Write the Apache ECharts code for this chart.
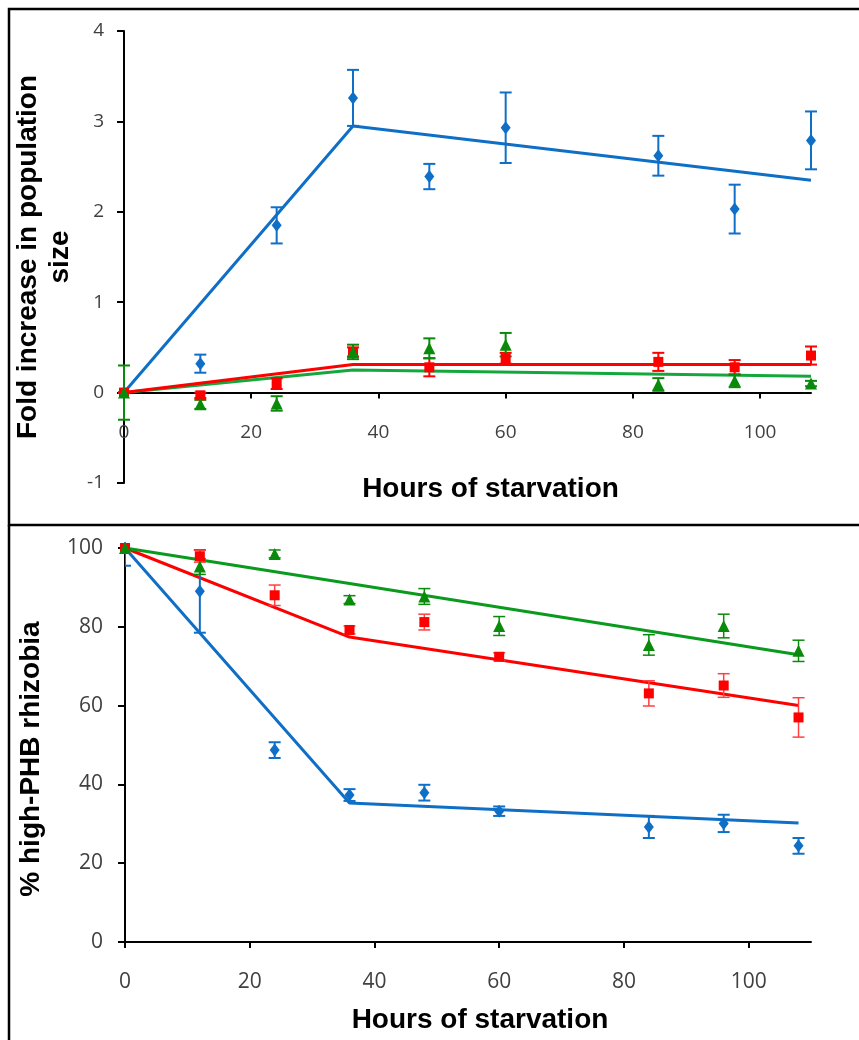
<!DOCTYPE html>
<html>
<head>
<meta charset="utf-8">
<script src="https://cdn.jsdelivr.net/npm/echarts@6/dist/echarts.min.js"></script>
<style>
    html, body { margin: 0; padding: 0; background: #fff; }
    #chart { width: 859px; height: 1040px; }
</style>
</head>
<body>
<div id="chart"></div>
<script>
// sampling times (hours of starvation)
var hours = [0, 12, 24, 36, 48, 60, 84, 96, 108];
var fitHours = [0, 36, 108];
var xTicks = [0, 20, 40, 60, 80, 100];

// top panel: fold increase in population size
var popBlue = [0, 0.32, 1.85, 3.26, 2.39, 2.93, 2.62, 2.03, 2.79];
var popBlueErr = [0, 0.1, 0.2, 0.31, 0.14, 0.39, 0.22, 0.27, 0.32];
var popRed = [0, -0.03, 0.1, 0.45, 0.28, 0.38, 0.34, 0.28, 0.41];
var popRedErr = [0, 0.03, 0.06, 0.05, 0.1, 0.06, 0.1, 0.08, 0.1];
var popGreen = [0, -0.13, -0.12, 0.45, 0.49, 0.53, 0.09, 0.13, 0.1];
var popGreenErr = [0.3, 0.05, 0.08, 0.08, 0.11, 0.13, 0.07, 0.07, 0.03];
var popFitBlue = [0, 2.95, 2.35];
var popFitRed = [0, 0.31, 0.31];
var popFitGreen = [0, 0.25, 0.18];

// bottom panel: % high-PHB rhizobia
var phbBlue = [100, 89, 48.7, 37.3, 37.9, 33.2, 29.2, 30.1, 24.4];
var phbBlueErr = [4.5, 10.5, 2, 1.5, 2, 1.2, 2.8, 2.2, 2];
var phbRed = [100, 97.9, 88, 79.2, 81.2, 72.4, 63.1, 65.1, 57];
var phbRedErr = [1, 1.5, 2.6, 1, 2, 1, 3.2, 3, 5];
var phbGreen = [100, 95.3, 98.5, 86.9, 87.7, 80.2, 75.4, 80.2, 73.9];
var phbGreenErr = [0.5, 2, 1, 1, 2, 2.4, 2.6, 3, 2.7];
var phbFitBlue = [100, 35.3, 30.2];
var phbFitRed = [100, 77.4, 60];
var phbFitGreen = [100, 91, 72.9];

var BLUE = "#0F6FC6";
var RED = "#FF0000";
var GREEN_MK = "#0A8A0A";
var GREEN_LN = "#14A83C";

function pts(xs, ys) {
    return xs.map(function(x, i) { return [x, ys[i]]; });
}
function errPts(ys, errs) {
    return hours.map(function(h, i) { return [h, ys[i] - errs[i], ys[i] + errs[i]]; });
}

function errorBars(color, width) {
    return function(params, api) {
        var x = api.value(0);
        var lo = api.coord([x, api.value(1)]);
        var hi = api.coord([x, api.value(2)]);
        var cap = 6;
        var style = { stroke: color, lineWidth: width };
        return {
            type: "group",
            children: [
                { type: "line", shape: { x1: lo[0], y1: lo[1], x2: hi[0], y2: hi[1] }, style: style },
                { type: "line", shape: { x1: hi[0] - cap, y1: hi[1], x2: hi[0] + cap, y2: hi[1] }, style: style },
                { type: "line", shape: { x1: lo[0] - cap, y1: lo[1], x2: lo[0] + cap, y2: lo[1] }, style: style }
            ]
        };
    };
}

var nameFont = { color: "#000", fontSize: 28, fontWeight: "bold", fontFamily: "Liberation Sans" };

function labelFont(size, margin) {
    return { color: "#404040", fontSize: size, fontFamily: "Open Sans", margin: margin };
}

function xAxisFor(grid, max, offset, gap, pad, fontSize) {
    var label = labelFont(fontSize, 30);
    label.customValues = xTicks;
    return {
        type: "value", gridIndex: grid, min: 0, max: max, offset: offset,
        name: "Hours of starvation", nameLocation: "middle", nameGap: gap,
        nameTextStyle: Object.assign({ padding: [0, 0, 0, pad] }, nameFont),
        axisLine: { show: true, onZero: false, lineStyle: { color: "#000", width: 2 } },
        axisTick: { show: true, length: 6, lineStyle: { color: "#000", width: 2 }, customValues: xTicks },
        axisLabel: label,
        splitLine: { show: false }
    };
}

function lineSeries(xi, data, color) {
    return {
        type: "line", xAxisIndex: xi, yAxisIndex: xi, data: data,
        symbol: "none", lineStyle: { color: color, width: 3 }, z: 3, silent: true
    };
}
function dotSeries(xi, data, color, symbol, size) {
    return {
        type: "scatter", xAxisIndex: xi, yAxisIndex: xi, data: data, clip: false,
        symbol: symbol, symbolSize: size, itemStyle: { color: color, opacity: 1 }, z: 4
    };
}
// the top panel keeps its caps at 108 h whole, the bottom one cuts the bar above 100 %
function errSeries(xi, data, color, width, clip) {
    return {
        type: "custom", xAxisIndex: xi, yAxisIndex: xi, data: data, clip: clip,
        renderItem: errorBars(color, width), z: 4, silent: true
    };
}

var chartDom = echarts.init(document.getElementById("chart"));
var option = {
    backgroundColor: "#fff",
    animation: false,
    grid: [
        { left: 124, top: 31, width: 687, height: 452 },
        { left: 125, top: 548, width: 686, height: 394 }
    ],
    // top x axis sits on y = 0, i.e. 1/5 of the grid height above the bottom
    xAxis: [xAxisFor(0, 108, -90.4, 83, 46, 19), xAxisFor(1, 110, 0, 64, 24, 21)],
    yAxis: [
        {
            type: "value", gridIndex: 0, min: -1, max: 4, interval: 1,
            name: "Fold increase in population\nsize", nameLocation: "middle", nameGap: 40,
            nameTextStyle: Object.assign({ lineHeight: 32 }, nameFont),
            axisLine: { show: true, onZero: false, lineStyle: { color: "#000", width: 2 } },
            axisTick: { show: true, length: 7, lineStyle: { color: "#000", width: 2 } },
            axisLabel: labelFont(19, 20),
            splitLine: { show: false }
        },
        {
            type: "value", gridIndex: 1, min: 0, max: 100, interval: 20,
            name: "% high-PHB rhizobia", nameLocation: "middle", nameGap: 80,
            nameTextStyle: Object.assign({ padding: [0, 28, 0, 0] }, nameFont),
            axisLine: { show: true, onZero: false, lineStyle: { color: "#000", width: 2 } },
            axisTick: { show: true, length: 7, lineStyle: { color: "#000", width: 2 } },
            axisLabel: labelFont(21, 22),
            splitLine: { show: false }
        }
    ],
    graphic: [
        { type: "rect", shape: { x: 9, y: 9, width: 900, height: 516 }, style: { fill: "none", stroke: "#000", lineWidth: 2.5 }, z: 100 },
        { type: "line", shape: { x1: 9, y1: 525, x2: 9, y2: 1050 }, style: { stroke: "#000", lineWidth: 2.5 }, z: 100 }
    ],
    series: [
        lineSeries(0, pts(fitHours, popFitGreen), GREEN_LN),
        lineSeries(0, pts(fitHours, popFitRed), RED),
        lineSeries(0, pts(fitHours, popFitBlue), BLUE),
        errSeries(0, errPts(popBlue, popBlueErr), BLUE, 2, false),
        errSeries(0, errPts(popRed, popRedErr), RED, 2, false),
        errSeries(0, errPts(popGreen, popGreenErr), GREEN_MK, 2, false),
        dotSeries(0, pts(hours, popBlue), BLUE, "diamond", [10, 13]),
        dotSeries(0, pts(hours, popRed), RED, "rect", 10),
        dotSeries(0, pts(hours, popGreen), GREEN_MK, "triangle", 12),

        lineSeries(1, pts(fitHours, phbFitBlue), BLUE),
        lineSeries(1, pts(fitHours, phbFitRed), RED),
        lineSeries(1, pts(fitHours, phbFitGreen), "#0A9A1E"),
        errSeries(1, errPts(phbBlue, phbBlueErr), BLUE, 2, true),
        errSeries(1, errPts(phbRed, phbRedErr), "#FF4040", 1.5, true),
        errSeries(1, errPts(phbGreen, phbGreenErr), GREEN_MK, 1.5, true),
        dotSeries(1, pts(hours, phbBlue), BLUE, "diamond", [10, 13]),
        dotSeries(1, pts(hours, phbRed), RED, "rect", 10),
        dotSeries(1, pts(hours, phbGreen), GREEN_MK, "triangle", 12)
    ]
};
chartDom.setOption(option);
</script>
</body>
</html>
